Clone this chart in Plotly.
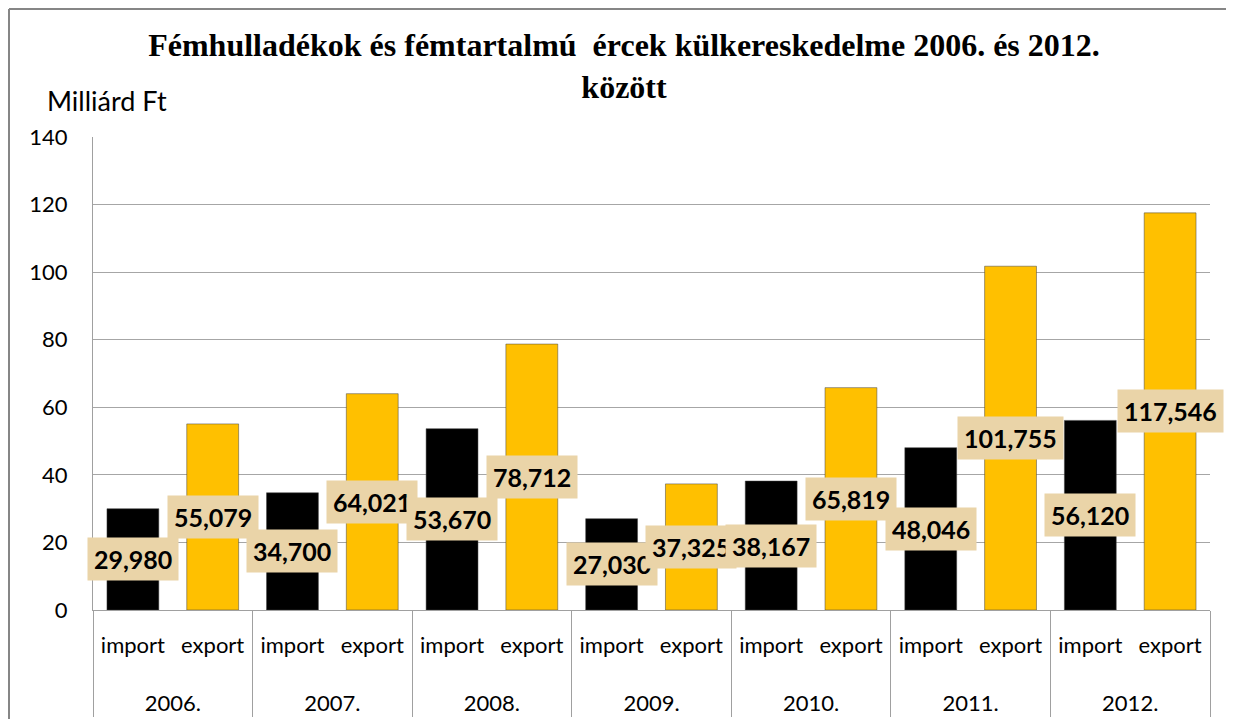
import plotly.graph_objects as go

years = ["2006.", "2007.", "2008.", "2009.", "2010.", "2011.", "2012."]
flows = ["import", "export"]
imports = [29.980, 34.700, 53.670, 27.030, 38.167, 48.046, 56.120]
exports = [55.079, 64.021, 78.712, 37.325, 65.819, 101.755, 117.546]
import_labels = ["29,980", "34,700", "53,670", "27,030", "38,167", "48,046", "56,120"]
export_labels = ["55,079", "64,021", "78,712", "37,325", "65,819", "101,755", "117,546"]
y_ticks = [0, 20, 40, 60, 80, 100, 120, 140]

COL_IMPORT = "#000000"
COL_EXPORT = "#FFC000"

x_outer, x_inner, vals, cols, labels = [], [], [], [], []
for i, yr in enumerate(years):
    for fl, v, lab, c in ((flows[0], imports[i], import_labels[i], COL_IMPORT),
                          (flows[1], exports[i], export_labels[i], COL_EXPORT)):
        x_outer.append(yr)
        x_inner.append(fl + "<br><span style='font-size:60px'>\u00a0</span>")
        vals.append(v)
        cols.append(c)
        labels.append(lab)

fig = go.Figure()
fig.add_trace(go.Bar(
    x=[x_outer, x_inner], y=vals,
    marker=dict(color=cols, line=dict(color="#404040", width=0.5)),
    showlegend=False, hoverinfo="skip",
))

# page is offset by the 8px body margin
O = 8
W, H = 1234 - O, 719 - O
L, T = 93 - O, 137 - O
pw, ph = 1117, 473
R, B = W - L - pw, H - T - ph


def px_x(p):
    return (p - O - L) / pw


def px_y(p):
    return (T + ph - (p - O)) / ph


annotations = []
for idx, (v, lab) in enumerate(zip(vals, labels)):
    annotations.append(dict(
        x=idx, y=v / 2, xref="x", yref="y", text="<b>" + lab + "</b>",
        showarrow=False, bgcolor="#EAD4A8", borderpad=6,
        font=dict(family="Lato", size=25, color="#000000"),
    ))

annotations.append(dict(
    x=px_x(45), y=px_y(100), xref="paper", yref="paper",
    xanchor="left", yanchor="middle", text="Milliárd Ft", showarrow=False,
    font=dict(family="Lato", size=27, color="#000000"),
))

shapes = [
    dict(type="line", xref="paper", yref="paper",
         x0=px_x(9), x1=px_x(1240), y0=px_y(9), y1=px_y(9),
         line=dict(color="#868686", width=2)),
    dict(type="line", xref="paper", yref="paper",
         x0=px_x(9), x1=px_x(9), y0=px_y(9), y1=px_y(730),
         line=dict(color="#868686", width=2)),
]

fig.update_layout(
    width=W, height=H,
    margin=dict(l=L, r=R, t=T, b=B, autoexpand=False),
    paper_bgcolor="white", plot_bgcolor="white",
    bargap=0.35,
    title=dict(
        text="<b>Fémhulladékok és fémtartalmú  ércek külkereskedelme 2006. és 2012.<br>között</b>",
        x=(624 - O) / W, xanchor="center", xref="container",
        y=1 - (56 - O) / H, yanchor="top", yref="container",
        font=dict(family="Liberation Serif", size=32, color="#000000"),
    ),
    xaxis=dict(
        type="multicategory", range=[-0.5, 13.5],
        showline=True, linecolor="#A0A0A0", linewidth=1,
        showdividers=True, dividercolor="#A0A0A0", dividerwidth=1,
        tickfont=dict(family="Lato", size=22, color="#000000"),
        ticks="", ticklabelstandoff=16,
    ),
    yaxis=dict(
        range=[0, 140], tickvals=y_ticks,
        showgrid=True, gridcolor="#A6A6A6", gridwidth=1,
        showline=True, linecolor="#A0A0A0", linewidth=1,
        zeroline=False,
        ticklabelstandoff=20,
        tickfont=dict(family="Lato", size=22, color="#000000"),
    ),
    annotations=annotations,
    shapes=shapes,
)

fig.write_html("out.html")
